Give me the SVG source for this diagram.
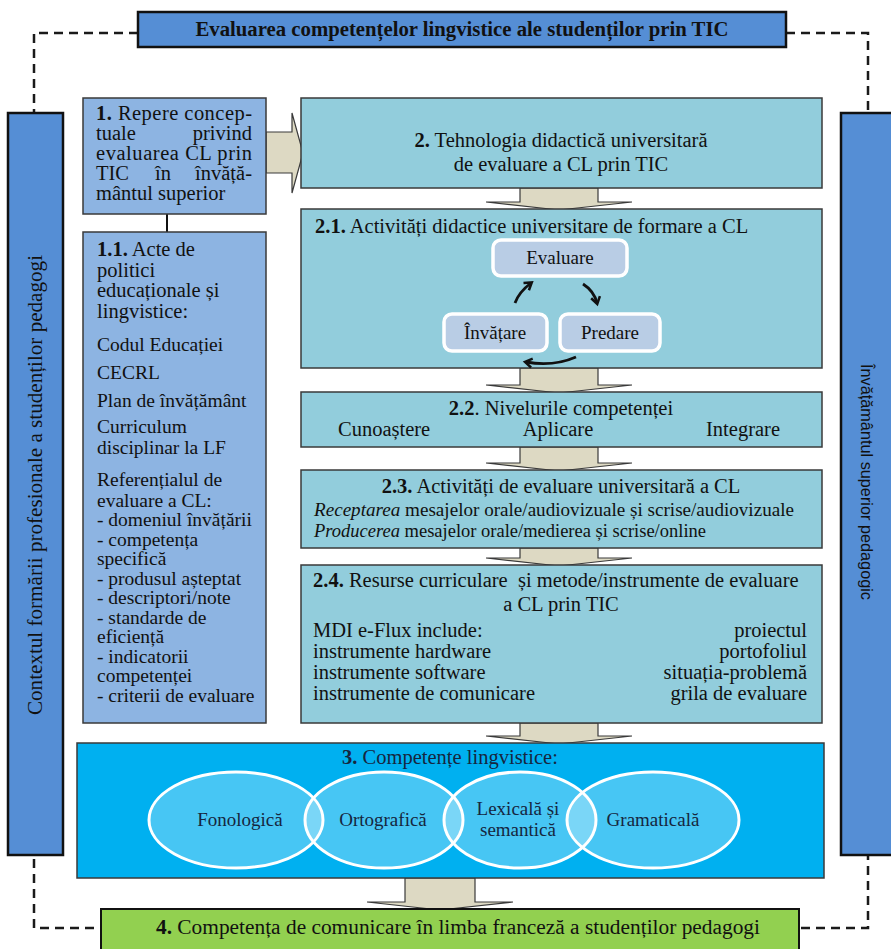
<svg xmlns="http://www.w3.org/2000/svg" width="891" height="949" viewBox="0 0 891 949">
<style>
text { font-family: "Liberation Serif", "Times New Roman", serif; fill: #111; font-size: 20.5px; }
.b { font-weight: bold; }
.sm { font-size: 19.5px; }
.mid { text-anchor: middle; }
.end { text-anchor: end; }
.navy { fill: #16263f; }
.sans { font-family: "Liberation Sans", Arial, sans-serif; }
.dark { fill: #558ED5; stroke: #111; stroke-width: 2.5; }
.lb { fill: #8DB4E2; stroke: #3a3a3a; stroke-width: 1.5; }
.teal { fill: #92CDDC; stroke: #3a3a3a; stroke-width: 1.5; }
.inner { fill: #B9CDE5; stroke: #fff; stroke-width: 3.5; }
.arr { fill: #DDD9C3; stroke: #3a3a3a; stroke-width: 1.2; }
.dash { fill: none; stroke: #1a1a1a; stroke-width: 2.5; stroke-dasharray: 9 6; }
.cyc { fill: none; stroke: #111; stroke-width: 2.8; marker-end: url(#open); }
.ell { fill: #fff; fill-opacity: 0.28; stroke: #fff; stroke-width: 3; }
</style>
<defs>
<marker id="open" markerWidth="12" markerHeight="12" refX="7" refY="6" orient="auto" markerUnits="userSpaceOnUse">
<path d="M1,1.5 L8,6 L1,10.5" fill="none" stroke="#111" stroke-width="2.5"/>
</marker>
</defs>

<g id="connectors">
<path class="dash" d="M138,33 H34 V928 H101"/>
<path class="dash" d="M786,33 H868 V928 H799"/>
<line x1="167" y1="214" x2="167" y2="232" stroke="#111" stroke-width="2"/>
<polygon class="arr" points="266,132 292,132 292,113 303,153 292,193 292,173 266,173"/>
<polygon class="arr" points="520,188 598,188 598,202 632,202 559,210 486,202 520,202"/>
<polygon class="arr" points="520,368 598,368 598,385 632,385 559,393 486,385 520,385"/>
<polygon class="arr" points="520,447 598,447 598,463 632,463 559,471 486,463 520,463"/>
<polygon class="arr" points="520,548 598,548 598,558 632,558 559,566 486,558 520,558"/>
<polygon class="arr" points="520,723 598,723 598,736 632,736 559,744 486,736 520,736"/>
<polygon class="arr" points="405,878 475,878 475,902 513,902 440,910 367,902 405,902"/>
</g>

<g id="title">
<rect class="dark" x="138" y="12" width="648" height="35"/>
<text class="b mid" x="462" y="36" textLength="533" lengthAdjust="spacingAndGlyphs">Evaluarea competențelor lingvistice ale studenților prin TIC</text>
</g>

<g id="context-left">
<rect class="dark" x="8" y="113" width="55" height="742"/>
<text class="mid" transform="translate(42,485) rotate(-90)" textLength="460" lengthAdjust="spacingAndGlyphs">Contextul formării profesionale a studenților pedagogi</text>
</g>

<g id="context-right">
<rect class="dark" x="841" y="113" width="56" height="742"/>
<text class="mid sans" style="font-size:17px" transform="translate(861,482) rotate(90)" textLength="236" lengthAdjust="spacingAndGlyphs">Învățământul superior pedagogic</text>
</g>

<g id="node1">
<rect class="lb" x="83" y="98" width="183" height="116"/>
<text x="96" y="120" textLength="156" lengthAdjust="spacing"><tspan class="b">1.</tspan> Repere concep-</text>
<text x="96" y="140">tuale</text>
<text class="end" x="252" y="140">privind</text>
<text x="96" y="160" textLength="156" lengthAdjust="spacing">evaluarea CL prin</text>
<text x="96" y="180">TIC</text>
<text class="mid" x="163" y="180">în</text>
<text class="end" x="252" y="180">învăță-</text>
<text x="96" y="200">mântul superior</text>
</g>

<g id="node1-1">
<rect class="lb" x="83" y="232" width="183" height="491"/>
<text x="97" y="256"><tspan class="b">1.1.</tspan> Acte de</text>
<text x="97" y="277">politici</text>
<text x="97" y="297">educaționale și</text>
<text x="97" y="318">lingvistice:</text>
<text class="sm" x="97" y="351">Codul Educației</text>
<text class="sm" x="97" y="379">CECRL</text>
<text class="sm" x="97" y="407">Plan de învățământ</text>
<text class="sm" x="97" y="433">Curriculum</text>
<text class="sm" x="97" y="454">disciplinar la LF</text>
<text class="sm" x="97" y="486">Referențialul de</text>
<text class="sm" x="97" y="507">evaluare a CL:</text>
<text class="sm" x="97" y="526">- domeniul învățării</text>
<text class="sm" x="97" y="545.5">- competența</text>
<text class="sm" x="97" y="565">specifică</text>
<text class="sm" x="97" y="584.5">- produsul așteptat</text>
<text class="sm" x="97" y="604">- descriptori/note</text>
<text class="sm" x="97" y="623.5">- standarde de</text>
<text class="sm" x="97" y="643">eficiență</text>
<text class="sm" x="97" y="662.5">- indicatorii</text>
<text class="sm" x="97" y="682">competenței</text>
<text class="sm" x="97" y="701.5">- criterii de evaluare</text>
</g>

<g id="node2">
<rect class="teal" x="301" y="98" width="521" height="90"/>
<text class="mid" x="561" y="147"><tspan class="b">2.</tspan> Tehnologia didactică universitară</text>
<text class="mid" x="561" y="171">de evaluare a CL prin TIC</text>
</g>

<g id="node2-1">
<rect class="teal" x="301" y="209" width="521" height="159"/>
<text x="315" y="233"><tspan class="b">2.1.</tspan> Activități didactice universitare de formare a CL</text>
<g id="evaluare">
<rect class="inner" x="493" y="240" width="134" height="36" rx="8"/>
<text class="mid" style="font-size:19px" x="560" y="264">Evaluare</text>
</g>
<g id="invatare">
<rect class="inner" x="444" y="314" width="103" height="37" rx="8"/>
<text class="mid" style="font-size:19px" x="495" y="339">Învățare</text>
</g>
<g id="predare">
<rect class="inner" x="560" y="314" width="100" height="37" rx="8"/>
<text class="mid" style="font-size:19px" x="610" y="339">Predare</text>
</g>
<path class="cyc" d="M515,303 Q519,292 531,283"/>
<path class="cyc" d="M583,284 Q594,291 597,303"/>
<path class="cyc" d="M576,357 Q553,367 526,362"/>
</g>

<g id="node2-2">
<rect class="teal" x="301" y="392" width="521" height="55"/>
<text class="mid" x="561" y="415"><tspan class="b">2.2</tspan>. Nivelurile competenței</text>
<text x="338" y="436">Cunoaștere</text>
<text class="mid" x="558" y="436">Aplicare</text>
<text class="end" x="780" y="436">Integrare</text>
</g>

<g id="node2-3">
<rect class="teal" x="301" y="470" width="521" height="78"/>
<text class="mid" x="561" y="493"><tspan class="b">2.3.</tspan> Activități de evaluare universitară a CL</text>
<text x="314" y="516" style="font-size:19.5px" textLength="480" lengthAdjust="spacingAndGlyphs"><tspan font-style="italic">Receptarea</tspan> mesajelor orale/audiovizuale și scrise/audiovizuale</text>
<text x="314" y="537" style="font-size:19.5px" textLength="392" lengthAdjust="spacingAndGlyphs"><tspan font-style="italic">Producerea</tspan> mesajelor orale/medierea și scrise/online</text>
</g>

<g id="node2-4">
<rect class="teal" x="301" y="565" width="521" height="158"/>
<text x="313" y="587" style="white-space:pre"><tspan class="b">2.4.</tspan> Resurse curriculare  și metode/instrumente de evaluare</text>
<text class="mid" x="561" y="611">a CL prin TIC</text>
<text x="313" y="637">MDI e-Flux include:</text>
<text x="313" y="658">instrumente hardware</text>
<text x="313" y="679">instrumente software</text>
<text x="313" y="700">instrumente de comunicare</text>
<text class="end" x="807" y="637">proiectul</text>
<text class="end" x="807" y="658">portofoliul</text>
<text class="end" x="807" y="679">situația-problemă</text>
<text class="end" x="807" y="700">grila de evaluare</text>
</g>

<g id="node3">
<rect x="77" y="743" width="747" height="135" fill="#00B0F0" stroke="#3a3a3a" stroke-width="1.5"/>
<text class="mid navy" x="450" y="764"><tspan class="b">3.</tspan> Competențe lingvistice:</text>
<g id="fonologica">
<ellipse class="ell" cx="236" cy="820" rx="87" ry="48"/>
<text class="mid navy" style="font-size:19px" x="240" y="826">Fonologică</text>
</g>
<g id="ortografica">
<ellipse class="ell" cx="384" cy="820" rx="79" ry="48"/>
<text class="mid navy" style="font-size:19px" x="383" y="826">Ortografică</text>
</g>
<g id="lexicala">
<ellipse class="ell" cx="520" cy="820" rx="76" ry="48"/>
<text class="mid navy" style="font-size:19px" x="518" y="815">Lexicală și</text>
<text class="mid navy" style="font-size:19px" x="518" y="836">semantică</text>
</g>
<g id="gramaticala">
<ellipse class="ell" cx="653" cy="820" rx="86" ry="48"/>
<text class="mid navy" style="font-size:19px" x="653" y="826">Gramaticală</text>
</g>
</g>

<g id="node4">
<rect x="101" y="909" width="698" height="45" fill="#92D050" stroke="#111" stroke-width="2"/>
<text class="mid" x="458" y="934" textLength="604" lengthAdjust="spacingAndGlyphs"><tspan class="b">4.</tspan> Competența de comunicare în limba franceză a studenților pedagogi</text>
</g>
</svg>
